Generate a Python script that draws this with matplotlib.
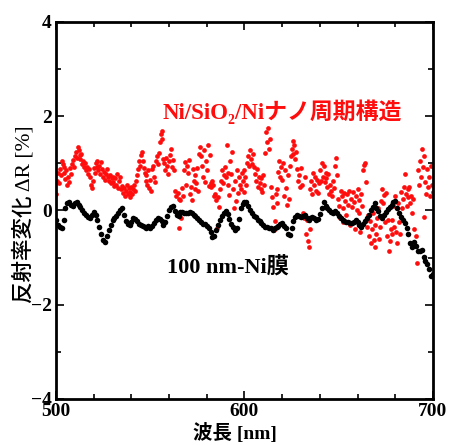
import numpy as np
import matplotlib
matplotlib.use("Agg")
import matplotlib.pyplot as plt
from matplotlib.ticker import MultipleLocator

# ---- data ----
# Black: 100 nm-Ni film, 500..700 nm every 1 nm
wl_black = np.arange(500, 701, 1.0)
dR_black = [
    -0.20, -0.30, -0.35, -0.37, -0.20, 0.05, 0.15, 0.18, 0.12, 0.10,
    0.15, 0.17, 0.12, 0.08, 0.02, -0.05, -0.10, -0.14, -0.16, -0.10,
    -0.04, -0.10, -0.20, -0.35, -0.50, -0.62, -0.67, -0.55, -0.42, -0.30,
    -0.20, -0.17, -0.12, -0.06, 0.00, 0.05, -0.10, -0.22, -0.28, -0.31,
    -0.25, -0.17, -0.18, -0.22, -0.28, -0.31, -0.33, -0.35, -0.37, -0.33,
    -0.37, -0.33, -0.26, -0.20, -0.17, -0.18, -0.22, -0.30, -0.25, -0.12,
    0.00, 0.08, 0.10, -0.02, -0.10, -0.12, -0.04, -0.03, -0.05, -0.06,
    -0.06, -0.03, -0.05, -0.09, -0.12, -0.17, -0.20, -0.24, -0.28, -0.28,
    -0.33, -0.38, -0.45, -0.57, -0.55, -0.42, -0.30, -0.20, -0.12, -0.06,
    -0.02, -0.08, -0.18, -0.28, -0.36, -0.41, -0.38, -0.18, 0.05, 0.14,
    0.18, 0.19, 0.10, 0.01, -0.06, -0.11, -0.14, -0.20, -0.23, -0.26,
    -0.30, -0.34, -0.36, -0.38, -0.38, -0.41, -0.38, -0.34, -0.32, -0.29,
    -0.27, -0.33, -0.38, -0.50, -0.52, -0.38, -0.22, -0.13, -0.10, -0.11,
    -0.13, -0.12, -0.10, -0.16, -0.20, -0.16, -0.13, -0.17, -0.20, -0.18,
    -0.08, 0.06, 0.18, 0.10, 0.05, 0.00, -0.03, -0.06, -0.02, -0.06,
    -0.12, -0.17, -0.20, -0.22, -0.24, -0.25, -0.26, -0.27, -0.24, -0.20,
    -0.25, -0.30, -0.34, -0.28, -0.22, -0.15, -0.10, 0.00, 0.08, 0.15,
    0.06, -0.02, -0.12, -0.17, -0.10, -0.04, 0.04, 0.08, 0.12, 0.18,
    0.20, 0.05, -0.06, -0.13, -0.20, -0.27, -0.38, -0.50, -0.70, -0.78,
    -0.66, -0.75, -0.87, -0.85, -0.84, -0.98, -1.08, -1.14, -1.25, -1.40,
    -1.35,
]

# Red: Ni/SiO2/Ni nano periodic structure, 500..700 nm every 0.5 nm
wl_red = np.arange(500, 700.25, 0.5)
dR_red = [
    0.35, 0.62, 0.80, 0.58, 0.88, 0.75, 1.05, 0.98, 0.92, 0.80, 0.66, 0.85, 0.55, 0.72, 0.60, 0.90, 0.78, 0.98, 1.08, 0.92,
    1.15, 1.25, 1.12, 1.35, 1.28, 1.18, 1.10, 1.20, 0.98, 1.05, 0.92, 1.00, 0.85, 0.92, 0.78, 0.88, 0.70, 0.55, 0.48, 0.62,
    0.90, 0.80, 1.00, 0.92, 1.05, 0.85, 0.95, 0.78, 1.02, 0.88, 0.72, 0.82, 0.65, 0.78, 0.88, 0.70, 0.62, 0.75, 0.58, 0.68,
    0.72, 0.60, 0.52, 0.68, 0.55, 0.78, 0.48, 0.62, 0.70, 0.45, 0.52, 0.38, 0.48, 0.30, 0.42, 0.55, 0.35, 0.48, 0.28, 0.40,
    0.50, 0.35, 0.45, 0.55, 0.42, 0.62, 0.75, 0.88, 1.05, 0.95, 1.18, 1.25, 1.05, 0.90, 0.80, 0.62, 0.75, 0.55, 0.85, 0.48,
    0.65, 0.42, 0.88, 0.95, 0.72, 0.60, 1.05, 1.15, 0.98, 1.22, 1.45, 1.62, 1.68, 1.52, 1.10, 1.00, 0.85, 1.12, 0.95, 0.78,
    1.05, 1.18, 1.30, 0.92, 1.08, 0.85, 0.42, 0.30, -0.05, 0.38, 0.25, -0.38, 0.22, -0.15, 0.48, 0.30, 0.85, 1.02, 0.55, 0.95,
    0.80, 1.08, 0.35, 0.50, 0.22, 0.88, 0.62, 0.45, 0.75, 0.58, 0.90, 0.42, 1.20, 1.35, 1.15, 0.95, 0.72, 1.28, 0.60, 1.05,
    0.85, 1.40, 0.52, 1.18, 0.58, 0.50, 0.62, 0.55, 0.30, 0.35, 0.22, -0.38, 0.28, 0.08, 0.45, 0.62, 0.85, 0.58, 0.75, 0.92,
    0.70, 1.38, 0.80, 0.55, 0.32, 1.05, 0.78, 1.25, 0.45, 0.05, 0.62, 0.20, 0.85, 0.38, 0.72, 0.55, 0.45, 0.80, 0.62, 0.40,
    0.86, 0.70, 0.55, 1.00, 1.15, 0.95, 1.28, 1.10, 0.98, 1.20, 0.92, 0.78, 0.62, 0.88, 0.50, 0.72, 0.58, 0.45, 0.68, 0.40,
    0.75, 0.55, 1.22, 1.67, 1.45, 1.75, 1.30, 1.52, 0.50, 0.28, 0.07, -0.41, -0.22, 0.35, 0.15, 0.45, 0.82, 1.05, 0.70, 0.92,
    0.65, 1.00, 0.30, 0.85, 0.48, 0.12, 0.75, 0.25, 0.95, 1.15, 1.30, 1.48, 1.20, 1.38, 1.10, 1.25, 0.88, 0.62, 0.75, 0.50,
    0.90, 0.55, -0.05, -0.15, 0.70, -0.50, -0.20, -0.65, -0.78, -0.40, 0.45, 0.62, 0.35, 0.80, 0.55, 0.70, 0.42, 0.65, 0.38, 0.58,
    0.85, 0.62, 1.00, 0.72, 0.95, 0.60, 0.80, 0.68, 0.50, 0.78, 0.35, 0.55, 0.42, 0.30, 0.62, 0.48, 0.95, 1.12, 0.75, 0.25,
    0.10, -0.15, 0.42, 0.30, -0.25, 0.05, 0.38, 0.20, -0.10, 0.35, 0.12, 0.42, -0.30, 0.25, 0.08, 0.40, 0.18, -0.40, 0.30, 0.02,
    0.45, -0.05, 0.22, -0.45, 0.35, 0.10, 0.85, 0.97, 1.00, 0.60, -0.35, -0.10, -0.55, -0.22, -0.70, -0.40, -0.05, -0.62, -0.77, -0.30,
    -0.50, -0.15, 0.05, -0.60, -0.35, 0.20, 0.45, 0.15, 0.32, -0.25, 0.38, -0.55, -0.20, -0.87, -0.65, -0.40, -0.20, -0.50, 0.10, -0.35,
    0.30, -0.45, -0.70, 0.15, -0.25, -0.50, 0.40, 0.05, 0.25, 0.50, 0.78, 0.35, 0.10, 0.45, 0.28, 0.50, 0.15, 0.30, -0.05, 0.25,
    -0.40, -0.75, -0.55, -1.11, 0.85, 0.55, 1.05, 0.70, 1.30, 0.92, 1.15, -0.13, 0.60, 0.35, 0.88, 0.50, 0.72, 0.30, 0.95, 0.55,
    0.40,
]

label_red = "Ni/SiO\u2082/Niナノ周期構造"
label_black = "100 nm-Ni膜"
xlabel = "波長 [nm]"
ylabel = "反射率変化 ΔR [%]"

FAM = ["Liberation Serif", "Noto Sans CJK JP", "DejaVu Sans"]
RED = "#ff0d0d"

fig = plt.figure(figsize=(4.53, 4.45), dpi=100)
ax = fig.add_axes([0.1236, 0.1034, 0.8322, 0.8472])

ax.plot(wl_red, dR_red, "o", color=RED, ms=3.4, mew=0, zorder=2)
ax.plot(wl_black, dR_black, "o", color="black", ms=4.0, mew=0, zorder=3)

ax.set_xlim(500, 700)
ax.set_ylim(-4, 4)
ax.xaxis.set_major_locator(MultipleLocator(100))
ax.xaxis.set_minor_locator(MultipleLocator(20))
ax.yaxis.set_major_locator(MultipleLocator(2))
ax.yaxis.set_minor_locator(MultipleLocator(1))
ax.tick_params(which="both", direction="in", top=True, right=True, width=1.2)
ax.tick_params(which="major", length=6, pad=3)
ax.tick_params(which="minor", length=3.5)
for s in ax.spines.values():
    s.set_linewidth(2)
for lab in ax.get_xticklabels() + ax.get_yticklabels():
    lab.set_family(FAM)
    lab.set_fontweight("bold")
    lab.set_fontsize(14)

ax.set_xlabel(xlabel, family=FAM, fontweight="bold", fontsize=14)
ax.xaxis.set_label_coords(0.475, -0.064)
ax.set_ylabel(ylabel, family=FAM, fontweight="medium", fontsize=15.5)
ax.yaxis.set_label_coords(-0.056, 0.49)

ax.text(556.5, 2.1, label_red, color=RED, family=FAM, fontweight="bold",
        fontsize=16.5, ha="left", va="center")
ax.text(559, -1.22, label_black, color="black", family=FAM, fontweight="bold",
        fontsize=16, ha="left", va="center")

fig.savefig("out.png", dpi=100)
